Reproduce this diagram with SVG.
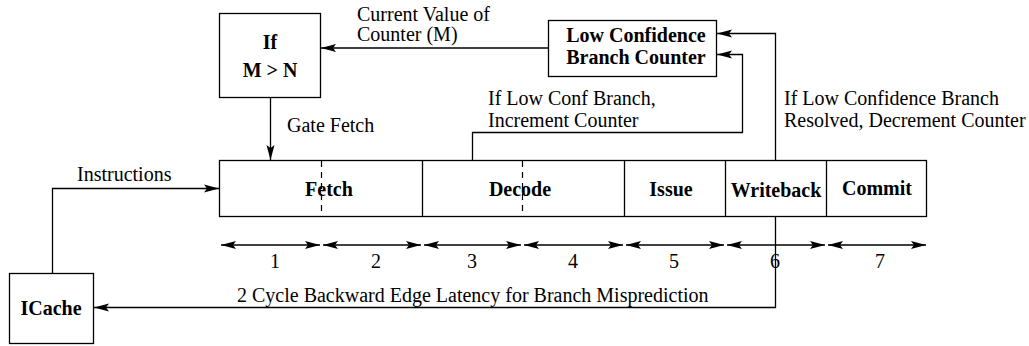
<svg xmlns="http://www.w3.org/2000/svg" width="1029" height="346" viewBox="0 0 1029 346">
<style>
.box{fill:#fff;stroke:#000;stroke-width:1.3}
.ln{fill:none;stroke:#000;stroke-width:1.3}
.dash{fill:none;stroke:#000;stroke-width:1.2;stroke-dasharray:6,5}
.t{font-family:"Liberation Serif",serif;font-size:20px;fill:#000}
.b{font-family:"Liberation Serif",serif;font-size:20px;font-weight:bold;fill:#000}
.m{text-anchor:middle}
</style>
<defs>
<marker id="ah" markerUnits="userSpaceOnUse" markerWidth="16" markerHeight="10" refX="15" refY="4" orient="auto-start-reverse" viewBox="0 0 16 8">
<path d="M0,0 L15,4 L0,8 L3,4 Z" fill="#000"/>
</marker>
</defs>
<g id="ifbox">
<rect class="box" x="219.5" y="13.5" width="101" height="84"/>
<text class="b m" x="270" y="49">If</text>
<text class="b m" x="270" y="77">M &gt; N</text>
</g>
<g id="lcbc">
<rect class="box" x="548.5" y="20.5" width="168" height="56"/>
<text class="b m" x="636" y="42">Low Confidence</text>
<text class="b m" x="636" y="64">Branch Counter</text>
</g>
<g id="icache">
<rect class="box" x="9.5" y="273.5" width="84" height="70"/>
<text class="b m" x="51" y="315">ICache</text>
</g>
<g id="pipeline">
<rect class="box" x="219.5" y="160.5" width="707" height="56"/>
<line class="ln" x1="422.5" y1="160" x2="422.5" y2="216"/>
<line class="ln" x1="624.5" y1="160" x2="624.5" y2="216"/>
<line class="ln" x1="725.5" y1="160" x2="725.5" y2="216"/>
<line class="ln" x1="826.5" y1="160" x2="826.5" y2="216"/>
<line class="dash" x1="321.5" y1="161" x2="321.5" y2="216"/>
<line class="dash" x1="522.5" y1="161" x2="522.5" y2="216"/>
<text class="b m" x="329" y="196">Fetch</text>
<text class="b m" x="520" y="196">Decode</text>
<text class="b m" x="671" y="196">Issue</text>
<text class="b m" x="776" y="197">Writeback</text>
<text class="b m" x="877" y="195">Commit</text>
</g>
<g id="cycles">
<line class="ln" x1="221" y1="245" x2="320" y2="245" marker-start="url(#ah)" marker-end="url(#ah)"/>
<line class="ln" x1="323" y1="245" x2="421" y2="245" marker-start="url(#ah)" marker-end="url(#ah)"/>
<line class="ln" x1="424" y1="245" x2="521" y2="245" marker-start="url(#ah)" marker-end="url(#ah)"/>
<line class="ln" x1="524" y1="245" x2="623" y2="245" marker-start="url(#ah)" marker-end="url(#ah)"/>
<line class="ln" x1="626" y1="245" x2="724" y2="245" marker-start="url(#ah)" marker-end="url(#ah)"/>
<line class="ln" x1="727" y1="245" x2="825" y2="245" marker-start="url(#ah)" marker-end="url(#ah)"/>
<line class="ln" x1="828" y1="245" x2="926" y2="245" marker-start="url(#ah)" marker-end="url(#ah)"/>
<text class="t m" x="275" y="268">1</text>
<text class="t m" x="376" y="268">2</text>
<text class="t m" x="472" y="268">3</text>
<text class="t m" x="573" y="268">4</text>
<text class="t m" x="674" y="268">5</text>
<text class="t m" x="775" y="268">6</text>
<text class="t m" x="880" y="268">7</text>
</g>
<g id="connectors">
<polyline class="ln" points="548,48 321,48" marker-end="url(#ah)"/>
<polyline class="ln" points="270.5,97 270.5,160" marker-end="url(#ah)"/>
<polyline class="ln" points="52.5,273 52.5,188.5 219,188.5" marker-end="url(#ah)"/>
<polyline class="ln" points="472.5,160 472.5,132.5 742.5,132.5 742.5,54.5 717,54.5" marker-end="url(#ah)"/>
<polyline class="ln" points="775.5,160 775.5,33.5 717,33.5" marker-end="url(#ah)"/>
<polyline class="ln" points="775.5,216 775.5,307.5 94,307.5" marker-end="url(#ah)"/>
<text class="t" x="357" y="21">Current Value of</text>
<text class="t" x="357" y="41">Counter (M)</text>
<text class="t" x="287" y="132">Gate Fetch</text>
<text class="t" x="77" y="181">Instructions</text>
<text class="t" x="488" y="105">If Low Conf Branch,</text>
<text class="t" x="488" y="127">Increment Counter</text>
<text class="t" x="784" y="105">If Low Confidence Branch</text>
<text class="t" x="784" y="127">Resolved, Decrement Counter</text>
<text class="t" x="237" y="302">2 Cycle Backward Edge Latency for Branch Misprediction</text>
</g>
</svg>
